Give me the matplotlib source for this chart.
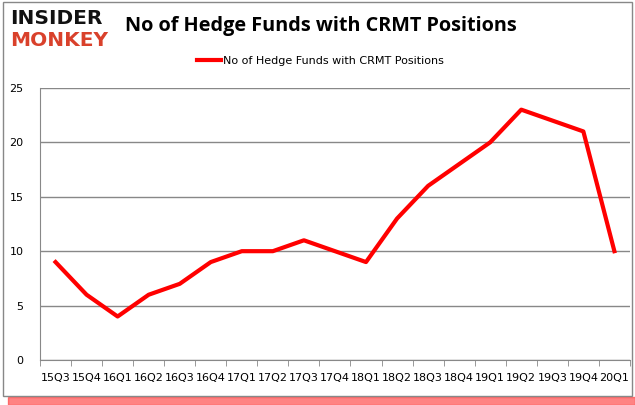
import matplotlib
matplotlib.use("Agg")
import matplotlib.pyplot as plt
from matplotlib.patches import Rectangle

# ----------- DATA -------------
quarters = ["15Q3", "15Q4", "16Q1", "16Q2", "16Q3", "16Q4", "17Q1", "17Q2", "17Q3", "17Q4",
            "18Q1", "18Q2", "18Q3", "18Q4", "19Q1", "19Q2", "19Q3", "19Q4", "20Q1"]
hedge_funds = [9, 6, 4, 6, 7, 9, 10, 10, 11, 10, 9, 13, 16, 18, 20, 23, 22, 21, 10]
y_ticks = [0, 5, 10, 15, 20, 25]
series_name = "No of Hedge Funds with CRMT Positions"
# ------------------------------

fig = plt.figure(figsize=(6.35, 4.05), dpi=100)
plt.rcParams['font.family'] = ['DejaVu Sans']

# frame with red shadow
fig.patches.append(Rectangle((0.012, 0.0), 0.988, 0.02, transform=fig.transFigure,
                             color="#ff3030", alpha=0.6, zorder=0))
fig.patches.append(Rectangle((0.005, 0.022), 0.99, 0.972, transform=fig.transFigure,
                             facecolor="none", edgecolor="#888888", lw=1, zorder=1))

ax = fig.add_axes([0.063, 0.111, 0.929, 0.672])
x = list(range(len(quarters)))
ax.plot(x, hedge_funds, color="#ff0000", lw=3, label=series_name, zorder=3)

ax.set_ylim(0, 25)
ax.set_xlim(-0.5, len(quarters) - 0.5)
ax.set_yticks(y_ticks)
ax.set_yticklabels([str(v) for v in y_ticks], fontsize=8)
ax.set_xticks(x)
ax.set_xticklabels(quarters, fontsize=8)
ax.set_xticks([i - 0.5 for i in range(len(quarters) + 1)], minor=True)
ax.tick_params(axis="x", which="major", length=0, pad=9)
ax.tick_params(axis="x", which="minor", length=4, color="#888888")
ax.tick_params(axis="y", length=0, pad=12)
ax.grid(axis="y", color="#888888", lw=1)
ax.set_axisbelow(True)
for side in ["top", "right"]:
    ax.spines[side].set_visible(False)
ax.spines["left"].set_color("#888888")
ax.spines["bottom"].set_color("#888888")

fig.text(0.505, 0.935, series_name, ha="center", va="center", fontsize=14.3, fontweight="bold",
         family="Open Sans")
ax.legend(loc="center", bbox_to_anchor=(0.475, 1.1), frameon=False, fontsize=8,
          handlelength=2.2, handletextpad=0.1)

# logo
fig.text(0.016, 0.955, "INSIDER", ha="left", va="center", fontsize=14.5, fontweight="black",
         color="#111111", family="DejaVu Sans")
fig.text(0.016, 0.9, "MONKEY", ha="left", va="center", fontsize=14.5, fontweight="black",
         color="#d9412b", family="DejaVu Sans")

plt.savefig("out.png", dpi=100)
